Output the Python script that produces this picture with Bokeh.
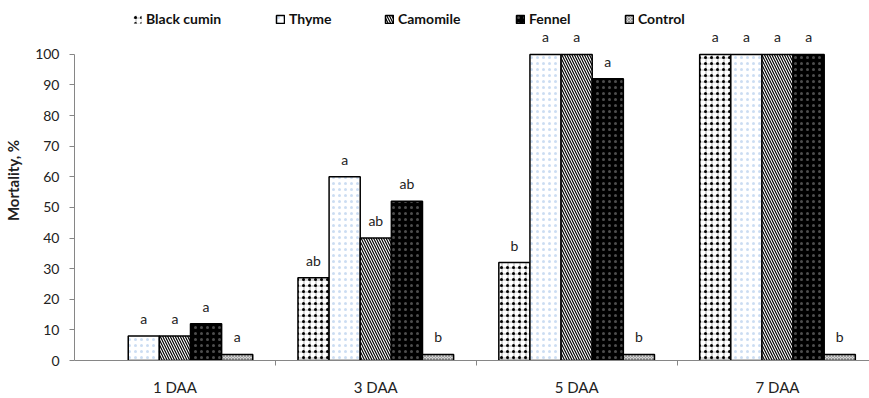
import numpy as np
from bokeh.plotting import figure
from bokeh.models import ColumnDataSource, FixedTicker, Legend, LegendItem, Range1d
from bokeh.core.properties import value
from bokeh.embed import file_html
from bokeh.resources import INLINE

# ---- data ----
days = ["1 DAA", "3 DAA", "5 DAA", "7 DAA"]
series = ["Black cumin", "Thyme", "Camomile", "Fennel", "Control"]
black_cumin = [0, 27, 32, 100]
thyme = [8, 60, 100, 100]
camomile = [8, 40, 100, 100]
fennel = [12, 52, 92, 100]
control = [2, 2, 2, 2]
letters_black_cumin = ["", "ab", "b", "a"]
letters_thyme = ["a", "a", "a", "a"]
letters_camomile = ["a", "ab", "a", "a"]
letters_fennel = ["a", "ab", "a", "a"]
letters_control = ["a", "b", "b", "b"]
y_ticks = list(range(0, 101, 10))

values = [black_cumin, thyme, camomile, fennel, control]
letters = [letters_black_cumin, letters_thyme, letters_camomile, letters_fennel, letters_control]

styles = [
    dict(fill_color="white", hatch_pattern="dot", hatch_color="black", hatch_scale=6, hatch_weight=1.5),
    dict(fill_color="white", hatch_pattern="dot", hatch_color="#8fb4e3", hatch_scale=6, hatch_alpha=0.45, hatch_weight=0.3),
    dict(fill_color="white", hatch_pattern="left_diagonal_line", hatch_color="black", hatch_scale=5, hatch_weight=1.2),
    dict(fill_color="black", hatch_pattern="dot", hatch_color="white", hatch_scale=6, hatch_alpha=0.3, hatch_weight=0.3),
    dict(fill_color="#d4d4d4", hatch_pattern="diagonal_cross", hatch_color="#777777", hatch_scale=3, hatch_weight=0.6),
]
legend_x = [58, 201, 310, 441, 550]   # legend placement (px from frame left)

FONT = "Lato"
bar_w = 0.155
n = len(series)

p = figure(width=869, height=398, x_range=Range1d(0, 3.958), y_range=Range1d(0, 117.6),
           output_backend="svg", toolbar_location=None,
           min_border_left=74, min_border_right=0, min_border_top=0, min_border_bottom=38)
p.outline_line_color = None
p.xgrid.visible = False
p.ygrid.visible = False

centers = np.arange(len(days)) + 0.5
for k, (name, vals, labs, st) in enumerate(zip(series, values, letters, styles)):
    xs = centers + (k - (n - 1) / 2) * bar_w
    src = ColumnDataSource(dict(x=list(xs), top=vals, lab=labs,
                                la=[1.0 if v > 0 else 0.0 for v in vals]))
    rs = [p.vbar(x="x", top="top", width=bar_w, source=src, line_color="black",
                 line_alpha="la", line_width=1.5, **st)]
    if k == 0:
        rs.append(p.vbar(x="x", top="top", width=bar_w, source=src, fill_alpha=0, line_alpha=0,
                         hatch_pattern="cross", hatch_color="black", hatch_scale=6,
                         hatch_weight=0.5, hatch_alpha=0.6))
    p.text(x="x", y="top", text="lab", source=src, text_align="center", text_baseline="bottom",
           y_offset=-9, text_font=value(FONT), text_font_size="14px", text_color="#222222")
    lg = Legend(items=[LegendItem(label=name, renderers=rs)], orientation="horizontal",
                location=(legend_x[k], 333), glyph_width=10, glyph_height=10, label_standoff=4,
                padding=3, margin=0, border_line_color=None, background_fill_alpha=0,
                label_text_font=FONT, label_text_font_style="bold", label_text_font_size="14px",
                label_text_color="#111111")
    p.add_layout(lg)

# x axis
xa = p.xaxis[0]
xa.ticker = FixedTicker(ticks=list(centers), minor_ticks=[1, 2, 3])
xa.major_label_overrides = {float(c): d for c, d in zip(centers, days)}
xa.major_tick_line_color = None
xa.minor_tick_out = 5
xa.minor_tick_in = 0
xa.minor_tick_line_color = "#868686"
xa.axis_line_color = "#868686"
xa.major_label_standoff = 11
xa.major_label_text_font = FONT
xa.major_label_text_font_size = "15px"
xa.major_label_text_color = "#222222"

# y axis
ya = p.yaxis[0]
ya.ticker = FixedTicker(ticks=y_ticks)
ya.bounds = (0, 100)
ya.minor_tick_line_color = None
ya.major_tick_out = 5
ya.major_tick_in = 0
ya.major_tick_line_color = "#868686"
ya.axis_line_color = "#868686"
ya.major_label_standoff = 10
ya.major_label_text_font = FONT
ya.major_label_text_font_size = "14px"
ya.major_label_text_color = "#222222"
ya.axis_label = "Mortality, %"
ya.axis_label_text_font = FONT
ya.axis_label_text_font_style = "bold"
ya.axis_label_text_font_size = "15px"
ya.axis_label_text_color = "#222222"
ya.axis_label_standoff = 10

open("out.html", "w").write(file_html(p, INLINE))
